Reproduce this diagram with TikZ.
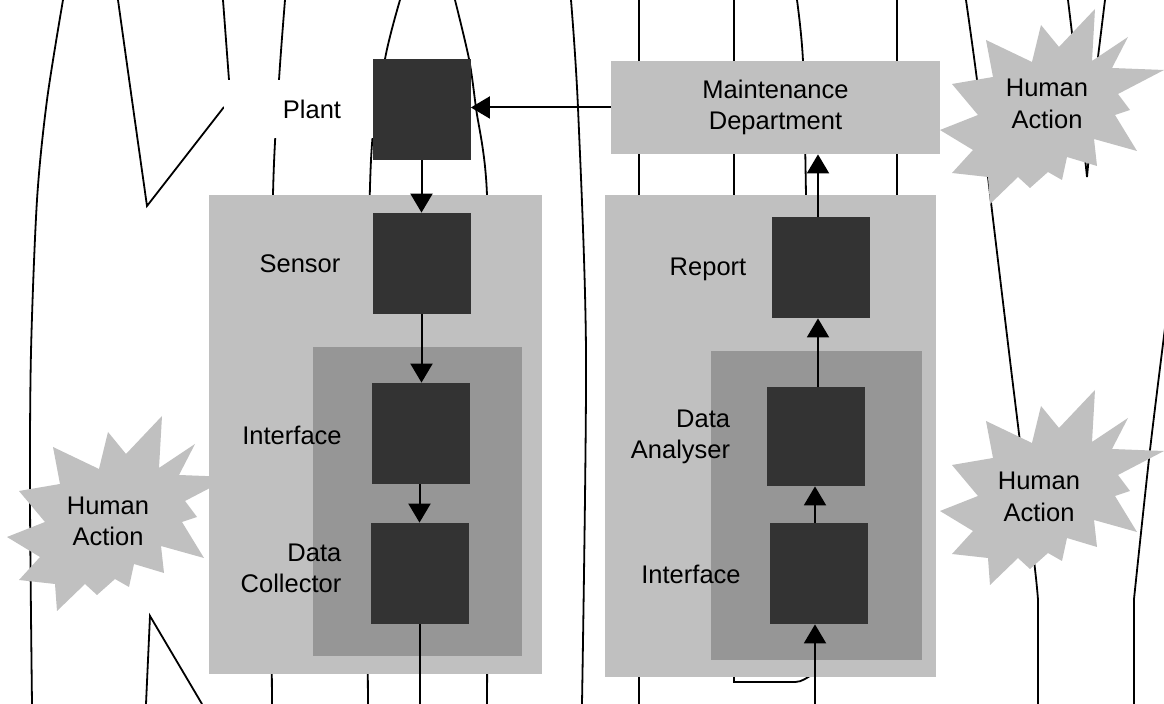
\documentclass[tikz,border=0pt]{standalone}
\usepackage{fontspec}
\setmainfont{Liberation Sans}
\usetikzlibrary{arrows.meta}

\definecolor{boxgrey}{HTML}{C0C0C0}
\definecolor{innergrey}{HTML}{969696}
\definecolor{blockgrey}{HTML}{333333}

\tikzset{
    block/.style={fill=blockgrey, minimum width=49pt, minimum height=50.5pt, inner sep=0pt},
    lbl/.style={inner sep=0pt, align=center, font=\fontsize{12.75pt}{15.75pt}\selectfont},
    flow/.style={line width=1pt, -{Triangle[width=11pt,length=9.5pt]}},
    wire/.style={line width=0.9pt},
}

\newcommand{\burstat}[1]{%
    \fill[boxgrey, shift={(#1)}] (43,-97) -- (40,-45) -- (76,-69) -- (60,-38) -- (112,-36)
        -- (66,-12) -- (78,4) -- (63,9) -- (85,45) -- (42,33) -- (45,60) -- (15,51)
        -- (10,74) -- (-4,66) -- (-22,82) -- (-34,71) -- (-62,98) -- (-64,71)
        -- (-100,67) -- (-79,44) -- (-112,24) -- (-74,9) -- (-100,-22) -- (-59,-29)
        -- (-66,-66) -- (-20,-44) -- (-11,-81) -- (7,-59) -- cycle;}

\begin{document}
\begin{tikzpicture}[x=0.5pt, y=-0.5pt]
        \useasboundingbox (0,0) rectangle (1164,704);
        \fill[white] (0,0) rectangle (1164,704);
        \clip (0,0) rectangle (1164,704);

        % background lines
        \draw[wire] plot[smooth] coordinates {(63,0) (47,100) (37,200) (31,352) (30,500) (32,704)};
        \draw[wire] plot[smooth] coordinates {(118,0) (132,100) (147,206)} -- (224,107);
        \draw[wire] (223,0) -- (229,80);
        \draw[wire] plot[smooth] coordinates {(285,0) (279,80) (273,195) (271,450) (272,704)};
        \draw[wire] plot[smooth] coordinates {(400,0) (385,59) (371,160) (367,420) (368,704)};
        \draw[wire] plot[smooth] coordinates {(455,0) (469,59) (476,108) (487,195) (488,420) (487,704)};
        \draw[wire] plot[smooth] coordinates {(571,0) (578,108) (586,352) (582,704)};
        \draw[wire] (639,0) -- (639,704);
        \draw[wire] (734,0) -- (734,682) -- (790,682) .. controls (800,682) .. (810,676);
        \draw[wire] plot[smooth] coordinates {(797,0) (803,61) (806,195) (807,300)};
        \draw[wire] (897,0) -- (897,300);
        \draw[wire] plot[smooth] coordinates {(966,0) (977,80) (988,177) (1009,352) (1020,442) (1035,569) (1038,600)} -- (1038,704);
        \draw[wire] (1068,0) -- (1072,33) -- (1087,177) -- (1098,57) -- (1105,0);
        \draw[wire] plot[smooth] coordinates {(1166,320) (1150,450) (1134,599)} -- (1134,704);
        \draw[wire] (146,704) -- (150,616) -- (202,704);

        \node[lbl, fill=white, minimum width=88pt, minimum height=29pt] (plantlbl) at (312,109) {Plant};

        % human action bursts
        \burstat{1052,106}
        \burstat{1052,487}
        \burstat{119,513}
        \node[lbl] (humantop) at (1047,104) {Human\\Action};
        \node[lbl] (humanright) at (1039,497) {Human\\Action};
        \node[lbl] (humanleft) at (108,521.5) {Human\\Action};

        % containers
        \fill[boxgrey] (209,195) rectangle (542,674);
        \fill[innergrey] (313,347) rectangle (522,656);
        \fill[boxgrey] (605,195) rectangle (936,677);
        \fill[innergrey] (711,351) rectangle (922,660);

        \node[lbl, fill=boxgrey, minimum width=164.5pt, minimum height=46.5pt] (maint) at (775.5,107.5) {Maintenance\\Department};

        \node[block] (plant) at (421.5,109.5) {};
        \node[block] (sensor) at (421.5,263.5) {};
        \node[block] (iface1) at (420.5,433.5) {};
        \node[block] (collector) at (419.5,573.5) {};
        \node[block] (report) at (820.5,267.5) {};
        \node[block, minimum height=49.5pt] (analyser) at (815.5,436.5) {};
        \node[block] (iface2) at (818.5,573.5) {};

        \node[lbl] (sensorlbl) at (300,264) {Sensor};
        \node[lbl] (iface1lbl) at (292,435) {Interface};
        \node[lbl, align=right] (collectorlbl) at (291,568.5) {Data\\Collector};
        \node[lbl] (reportlbl) at (708,269.5) {Report};
        \node[lbl, align=right] (analyserlbl) at (680.5,437) {Data\\Analyser};
        \node[lbl] (iface2lbl) at (691,574) {Interface};

        % arrows
        \coordinate (leftout) at (419.5,704);
        \coordinate (rightin) at (815,704);
        \coordinate (upline) at (818,0);
        \draw[flow] (maint.west) -- (maint.west -| plant.east);
        \draw[flow] (plant.south) -- (sensor.north);
        \draw[flow] (sensor.south) -- (sensor.south |- iface1.north);
        \draw[flow] (collector.north |- iface1.south) -- (collector.north);
        \draw[wire, line width=1pt] (collector.south) -- (leftout);
        \draw[flow] (rightin) -- (rightin |- iface2.south);
        \draw[flow] (rightin |- iface2.north) -- (rightin |- analyser.south);
        \draw[flow] (upline |- analyser.north) -- (upline |- report.south);
        \draw[flow] (upline |- report.north) -- (upline |- maint.south);
\end{tikzpicture}
\end{document}
